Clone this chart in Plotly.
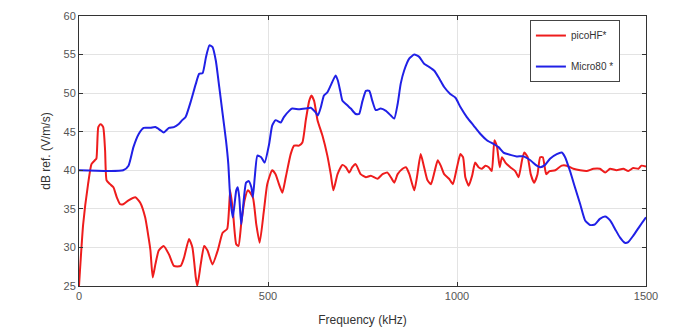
import plotly.graph_objects as go

# Frequency (kHz) and level (dB)
pico_f = [0, 11, 24, 33, 42, 46, 51, 57, 64, 69, 73, 82, 91, 100, 109, 117, 131, 149, 162, 175, 184, 189,
          195, 202, 211, 224, 238, 251, 269, 278, 291, 300, 309, 313, 322, 331, 340, 353, 367, 380, 392,
          400, 407, 416, 422, 429, 438, 447, 460, 469, 478, 489, 498, 511, 520, 529, 538, 547, 560, 569,
          582, 591, 600, 609, 615, 622, 631, 644, 657, 666, 673, 684, 697, 706, 715, 723, 732, 745, 759,
          772, 790, 803, 816, 825, 834, 843, 856, 865, 874, 887, 894, 904, 913, 922, 931, 940, 949, 957,
          966, 979, 989, 1000, 1009, 1016, 1022, 1031, 1040, 1048, 1057, 1066, 1075, 1084, 1092, 1099,
          1106, 1113, 1119, 1128, 1141, 1154, 1163, 1172, 1178, 1187, 1195, 1204, 1213, 1220, 1227, 1236,
          1245, 1260, 1277, 1290, 1308, 1326, 1343, 1361, 1378, 1392, 1405, 1422, 1440, 1453, 1466, 1480,
          1488, 1500]
pico_db = [25.0, 33.0, 38.2, 40.8, 41.3, 41.5, 45.6, 46.0, 45.6, 42.6, 38.7, 38.2, 37.8, 36.5, 35.6, 35.6,
           36.1, 36.5, 35.8, 33.9, 31.3, 29.6, 26.1, 27.8, 29.6, 30.2, 29.1, 27.6, 27.6, 28.7, 31.1, 30.0,
           26.1, 25.0, 27.8, 30.2, 29.6, 27.8, 29.6, 31.9, 32.4, 37.4, 34.8, 30.4, 30.2, 33.0, 36.1, 37.4,
           36.5, 33.0, 30.6, 34.7, 38.2, 40.0, 39.5, 38.2, 37.1, 39.1, 42.1, 43.2, 43.2, 43.6, 46.5, 49.0,
           49.7, 49.0, 46.5, 44.5, 41.9, 39.5, 37.4, 39.5, 40.7, 40.4, 39.7, 40.4, 40.8, 39.5, 39.1, 39.3,
           38.9, 39.5, 39.7, 39.1, 38.4, 39.5, 40.2, 40.4, 39.5, 37.4, 39.1, 42.1, 40.4, 38.7, 38.2, 39.7,
           41.3, 40.6, 39.5, 38.9, 38.2, 40.4, 42.1, 41.7, 39.1, 38.0, 39.3, 41.0, 40.4, 40.2, 40.6, 40.4,
           39.9, 43.9, 43.0, 40.4, 41.7, 41.0, 40.4, 39.9, 39.1, 41.3, 42.3, 41.7, 39.5, 38.4, 39.5, 41.7,
           41.7, 39.5, 39.9, 40.0, 40.6, 40.6, 40.2, 40.0, 39.9, 40.2, 40.2, 39.7, 40.2, 40.0, 40.2, 39.9,
           40.3, 40.2, 40.6, 40.5]

micro_f = [0, 117, 131, 144, 158, 171, 189, 202, 215, 224, 238, 251, 264, 273, 282, 295, 309, 318, 327,
           336, 345, 353, 362, 371, 380, 389, 395, 400, 407, 416, 420, 424, 429, 433, 442, 449, 456, 460,
           465, 472, 482, 491, 503, 511, 520, 534, 542, 556, 564, 582, 600, 613, 626, 632, 640, 648, 657,
           666, 679, 685, 691, 697, 706, 719, 732, 741, 750, 759, 768, 776, 785, 798, 812, 825, 834, 843,
           851, 860, 874, 887, 900, 913, 926, 940, 953, 966, 982, 996, 1009, 1026, 1044, 1062, 1079, 1097,
           1110, 1123, 1141, 1158, 1176, 1194, 1211, 1220, 1233, 1246, 1264, 1277, 1286, 1299, 1312, 1326,
           1339, 1352, 1365, 1378, 1392, 1405, 1418, 1431, 1444, 1453, 1466, 1484, 1500]
micro_db = [40.0, 40.0, 40.6, 43.0, 44.7, 45.5, 45.5, 45.6, 45.2, 44.9, 45.5, 45.6, 46.0, 46.5, 46.9, 48.8,
            51.2, 52.5, 52.6, 54.7, 56.2, 56.0, 54.2, 50.8, 47.3, 43.8, 40.8, 36.5, 33.9, 37.4, 37.8, 36.5,
            33.0, 34.7, 38.4, 38.6, 37.8, 36.5, 39.1, 41.9, 41.7, 41.0, 43.4, 45.8, 46.5, 46.2, 46.9, 47.7,
            48.0, 47.9, 48.0, 48.1, 47.5, 47.1, 48.2, 49.7, 50.1, 51.0, 52.3, 51.6, 50.3, 49.0, 48.6, 48.0,
            47.3, 47.3, 49.0, 50.3, 50.3, 49.0, 47.8, 48.0, 47.7, 47.1, 46.7, 48.6, 51.2, 52.9, 54.5, 55.0,
            54.7, 53.8, 53.4, 52.9, 51.9, 50.8, 49.9, 49.4, 48.2, 46.9, 45.8, 44.7, 43.9, 43.4, 43.0, 42.3,
            42.0, 41.8, 41.8, 41.3, 40.6, 40.4, 40.7, 41.5, 42.1, 42.3, 41.7, 39.9, 37.8, 35.6, 33.5, 32.9,
            33.0, 33.7, 34.0, 33.5, 32.4, 31.3, 30.6, 30.7, 31.5, 32.8, 33.9]

x_ticks = [0, 500, 1000, 1500]
y_ticks = [25, 30, 35, 40, 45, 50, 55, 60]

FONT = "Liberation Sans, Arial, sans-serif"

fig = go.Figure()
fig.add_trace(go.Scatter(x=pico_f, y=pico_db, mode="lines", name="picoHF*", legendgroup="a",
                         line=dict(color="#ee1c1c", width=2, shape="spline", smoothing=0.5)))
fig.add_trace(go.Scatter(x=micro_f, y=micro_db, mode="lines", name="Micro80 *", legendgroup="b",
                         line=dict(color="#2020e6", width=2, shape="spline", smoothing=0.5)))

axis_common = dict(showline=True, linecolor="#333333", linewidth=1, mirror="ticks",
                   ticks="inside", ticklen=4, tickcolor="#333333", automargin=False,
                   showgrid=True, gridcolor="#e3e3e3", gridwidth=1, zeroline=False,
                   tickfont=dict(family=FONT, size=11, color="#555555"))

fig.update_layout(
    width=676, height=333,
    margin=dict(l=79, r=30, t=16, b=47),
    paper_bgcolor="white", plot_bgcolor="white",
    showlegend=True,
    legend=dict(x=0.954, y=0.985, xanchor="right", yanchor="top",
                bgcolor="white", bordercolor="#444444", borderwidth=1,
                font=dict(family=FONT, size=10, color="#333333"),
                tracegroupgap=12, itemwidth=30),
    xaxis=dict(range=[0, 1500], tickvals=x_ticks,
               title=dict(text="Frequency (kHz)", standoff=14,
                          font=dict(family=FONT, size=12, color="#333333")),
               **axis_common),
    yaxis=dict(range=[25, 60], tickvals=y_ticks,
               title=dict(text="dB ref. (V/m/s)", standoff=10,
                          font=dict(family=FONT, size=12, color="#333333")),
               **axis_common),
)

fig.write_html("out.html")
